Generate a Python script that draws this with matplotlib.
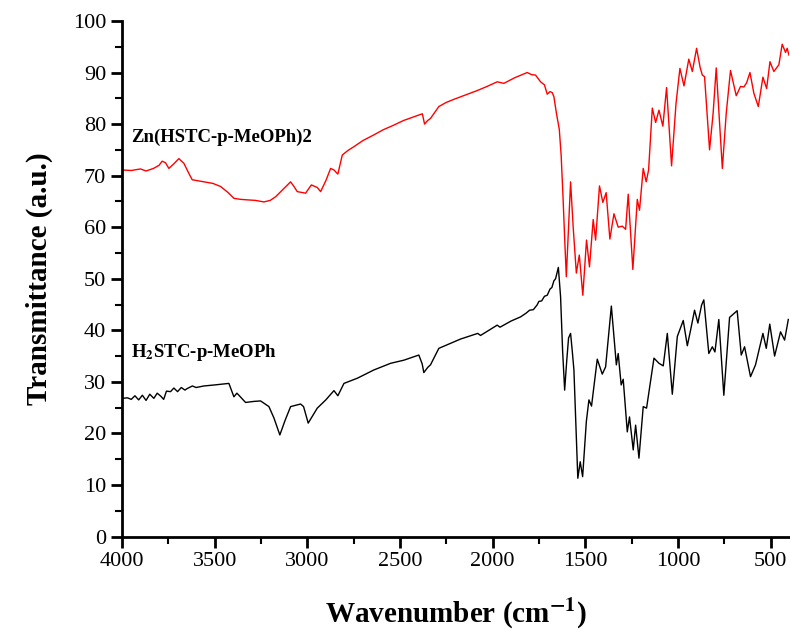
import matplotlib
matplotlib.use("Agg")
import matplotlib.pyplot as plt
from matplotlib.ticker import MultipleLocator

# Zn(HSTC-p-MeOPh)2 spectrum (red)
wn_zn = [4000, 3950, 3900, 3870, 3830, 3800, 3783, 3765, 3747, 3720, 3693, 3666, 3640, 3621,
         3590, 3558, 3510, 3468, 3430, 3396, 3360, 3324, 3280, 3234, 3200, 3171, 3126, 3090,
         3070, 3054, 3009, 2978, 2946, 2928, 2900, 2874, 2856, 2835, 2811, 2780, 2749, 2700,
         2641, 2590, 2533, 2480, 2425, 2379, 2367, 2350, 2335, 2290, 2250, 2209, 2150, 2083,
         2030, 1975, 1939, 1880, 1813, 1790, 1768, 1741, 1720, 1705, 1690, 1678, 1669, 1655,
         1640, 1630, 1620, 1610, 1602, 1590, 1579, 1565, 1548, 1532, 1513, 1493, 1477, 1457,
         1444, 1423, 1405, 1387, 1367, 1345, 1322, 1300, 1282, 1268, 1243, 1219, 1207, 1187,
         1171, 1158, 1138, 1120, 1102, 1081, 1061, 1034, 1010, 989, 967, 941, 922, 899, 880,
         868, 856, 829, 810, 793, 760, 739, 716, 685, 662, 644, 629, 611, 590, 566, 541, 521,
         503, 482, 455, 437, 419, 410, 401]
t_zn = [71.1, 71.0, 71.3, 70.9, 71.4, 72.0, 72.8, 72.5, 71.4, 72.3, 73.3, 72.4, 70.5, 69.2,
        69.0, 68.8, 68.5, 67.9, 66.8, 65.6, 65.4, 65.3, 65.2, 64.9, 65.2, 65.9, 67.5, 68.8,
        67.8, 66.9, 66.6, 68.2, 67.7, 66.9, 69.0, 71.4, 71.1, 70.3, 74.0, 74.9, 75.6, 76.8,
        77.9, 78.9, 79.8, 80.7, 81.4, 82.0, 80.0, 80.7, 81.1, 83.4, 84.2, 84.8, 85.6, 86.5,
        87.3, 88.2, 87.9, 89.0, 90.0, 89.6, 89.5, 88.2, 87.6, 85.8, 86.3, 86.1, 85.3, 82.0,
        79.0, 74.0, 66.0, 57.0, 50.4, 60.0, 68.8, 60.0, 51.1, 54.6, 46.8, 57.5, 52.3, 61.5,
        57.5, 68.0, 64.8, 66.7, 57.7, 62.6, 60.0, 60.2, 59.6, 66.4, 51.8, 65.4, 63.3, 71.4,
        68.8, 71.1, 83.1, 80.3, 82.7, 79.6, 87.1, 71.9, 84.0, 90.8, 87.4, 92.6, 90.2, 94.7, 91.0,
        89.5, 89.2, 75.0, 82.0, 90.9, 71.4, 82.1, 90.4, 85.5, 87.3, 87.2, 88.0, 90.0, 86.0, 83.4,
        89.1, 86.9, 92.1, 90.2, 91.5, 95.5, 93.9, 94.7, 93.4]

# H2STC-p-MeOPh spectrum (black)
wn_h2 = [4000, 3970, 3950, 3930, 3910, 3890, 3870, 3850, 3828, 3810, 3790, 3775, 3760, 3738,
         3720, 3700, 3680, 3660, 3648, 3620, 3600, 3558, 3500, 3450, 3423, 3396, 3380, 3369,
         3333, 3290, 3252, 3207, 3180, 3148, 3120, 3090, 3036, 3020, 2995, 2970, 2946, 2900,
         2856, 2835, 2802, 2730, 2641, 2550, 2479, 2398, 2380, 2371, 2350, 2335, 2290, 2173,
         2080, 2065, 1975, 1960, 1900, 1849, 1820, 1800, 1780, 1760, 1750, 1735, 1720, 1705,
         1690, 1680, 1669, 1660, 1645, 1633, 1622, 1611, 1600, 1590, 1579, 1570, 1561, 1540,
         1527, 1514, 1494, 1480, 1466, 1435, 1408, 1390, 1359, 1332, 1322, 1306, 1295, 1273,
         1261, 1241, 1228, 1210, 1187, 1169, 1129, 1102, 1079, 1057, 1030, 1003, 971, 949, 931,
         910, 892, 872, 860, 833, 814, 800, 779, 752, 721, 680, 658, 640, 608, 581, 541, 523,
         504, 478, 446, 424, 404]
t_h2 = [26.8, 26.9, 26.6, 27.3, 26.5, 27.4, 26.4, 27.6, 26.8, 27.8, 27.2, 26.6, 28.2, 28.1,
        28.8, 28.1, 28.9, 28.4, 28.7, 29.2, 28.9, 29.2, 29.4, 29.6, 29.7, 27.1, 27.8, 27.4,
        26.0, 26.2, 26.3, 25.2, 23.0, 19.7, 22.5, 25.2, 25.7, 25.2, 22.0, 23.5, 24.9, 26.5,
        28.3, 27.3, 29.7, 30.7, 32.3, 33.6, 34.2, 35.2, 33.5, 31.8, 32.8, 33.3, 36.5, 38.3,
        39.4, 39.0, 41.0, 40.6, 41.8, 42.6, 43.3, 43.9, 44.0, 44.9, 45.6, 45.7, 46.6, 46.8,
        48.0, 48.3, 49.6, 50.0, 52.2, 46.5, 36.0, 28.4, 34.0, 38.5, 39.4, 36.0, 32.3, 11.3,
        14.5, 11.6, 22.3, 26.5, 25.3, 34.4, 31.5, 32.9, 44.7, 33.3, 35.5, 29.4, 30.5, 20.3,
        23.2, 16.8, 21.6, 15.2, 25.2, 24.9, 34.6, 33.6, 33.1, 39.4, 27.6, 38.8, 41.9, 37.0, 40.1,
        43.9, 41.4, 44.9, 45.9, 35.5, 36.8, 35.8, 42.1, 27.4, 42.5, 43.8, 35.2, 36.8, 31.0, 33.3,
        39.4, 36.5, 41.2, 35.0, 39.7, 38.1, 42.1]

label_zn = "Zn(HSTC-p-MeOPh)2"
label_h2 = r"H$_\mathbf{2}$STC-p-MeOPh"

SERIF = ['Liberation Serif', 'DejaVu Serif']
plt.rcParams['font.family'] = SERIF
plt.rcParams['mathtext.fontset'] = 'stix'

fig = plt.figure(figsize=(7.9, 6.3), dpi=100)
ax = fig.add_axes([0.1544, 0.1484, 0.8444, 0.8183])

ax.plot(wn_zn, t_zn, color='#ff0000', lw=1.0)
ax.plot(wn_h2, t_h2, color='black', lw=1.0)

ax.set_xlim(4000, 400)
ax.set_ylim(0, 100)

ax.set_xticks(range(4000, 499, -500))
ax.xaxis.set_minor_locator(MultipleLocator(250))
ax.yaxis.set_major_locator(MultipleLocator(10))
ax.yaxis.set_minor_locator(MultipleLocator(5))
ax.tick_params(which='major', direction='out', length=8, width=2, labelsize=16)
ax.tick_params(which='minor', direction='out', length=5, width=1.5)
for lab in ax.get_xticklabels() + ax.get_yticklabels():
    lab.set_fontfamily(SERIF)

for s in ['top', 'right']:
    ax.spines[s].set_visible(False)
for s in ['left', 'bottom']:
    ax.spines[s].set_linewidth(2)

ax.set_ylabel("Transmittance (a.u.)", fontsize=21, fontweight='bold', labelpad=14)
ax.set_xlabel(r"Wavenumber (cm$^\mathbf{-1}$)", fontsize=21, fontweight='bold', labelpad=18)

ax.text(3950, 77.4, label_zn, fontsize=13.5, fontweight='bold', va='center', ha='left')
ax.text(3950, 35.6, label_h2, fontsize=13.5, fontweight='bold', va='center', ha='left')

fig.savefig("out.png", dpi=100)
